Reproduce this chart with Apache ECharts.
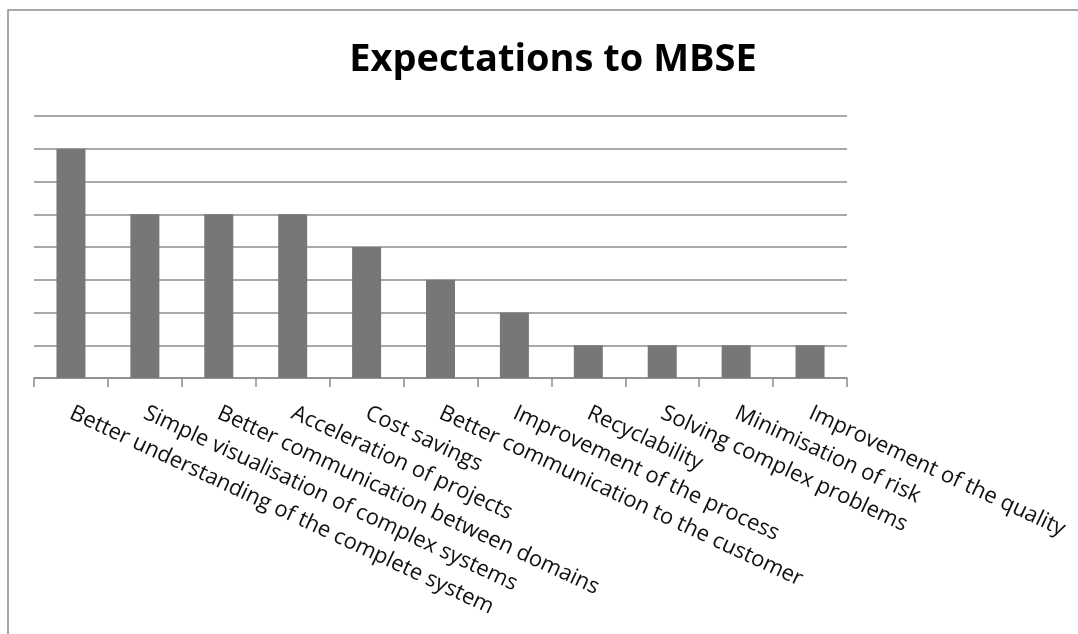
<!DOCTYPE html>
<html>
<head>
<meta charset="utf-8">
<script src="https://cdn.jsdelivr.net/npm/echarts@6/dist/echarts.min.js"></script>
<style>
html,body{margin:0;padding:0;background:#fff;}
#chart{width:1078px;height:634px;}
</style>
</head>
<body>
<div id="chart"></div>
<script>
const titleText = 'Expectations to MBSE';
const categories = [
  'Better understanding of the complete system',
  'Simple visualisation of complex systems',
  'Better communication between domains',
  'Acceleration of projects',
  'Cost savings',
  'Better communication to the customer',
  'Improvement of the process',
  'Recyclability',
  'Solving complex problems',
  'Minimisation of risk',
  'Improvement of the quality'
];
const values = [7, 5, 5, 5, 4, 3, 2, 1, 1, 1, 1];
const yTicks = [0, 1, 2, 3, 4, 5, 6, 7, 8];

const chart = echarts.init(document.getElementById('chart'), null, {renderer: 'canvas'});
chart.setOption({
  backgroundColor: '#ffffff',
  animation: false,
  title: {
    text: titleText,
    left: 548,
    textAlign: 'center',
    top: 36,
    textStyle: {fontFamily: 'Open Sans', fontWeight: 'bold', fontSize: 38, color: '#000000'}
  },
  graphic: [{
    type: 'polyline',
    shape: {points: [[8, 640], [8, 10], [1090, 10]]},
    style: {stroke: '#8a8a8a', lineWidth: 1.5, fill: null},
    silent: true
  }],
  grid: {left: 34, right: 231, top: 116, bottom: 256, containLabel: false},
  xAxis: {
    type: 'category',
    data: categories,
    axisLine: {show: true, lineStyle: {color: '#8c8c8c', width: 1.5}},
    axisTick: {show: true, length: 9, alignWithLabel: false, lineStyle: {color: '#8c8c8c', width: 1.5}},
    axisLabel: {
      interval: 0,
      rotate: -25,
      margin: 34,
      fontFamily: 'Open Sans',
      fontSize: 22,
      color: '#111111'
    }
  },
  yAxis: {
    type: 'value',
    min: yTicks[0],
    max: yTicks[yTicks.length - 1],
    interval: 1,
    axisLine: {show: false},
    axisTick: {show: false},
    axisLabel: {show: false},
    splitLine: {show: true, lineStyle: {color: '#8c8c8c', width: 1.5}}
  },
  series: [{
    type: 'bar',
    data: values,
    barWidth: 29,
    itemStyle: {color: '#777777'}
  }]
});
</script>
</body>
</html>
